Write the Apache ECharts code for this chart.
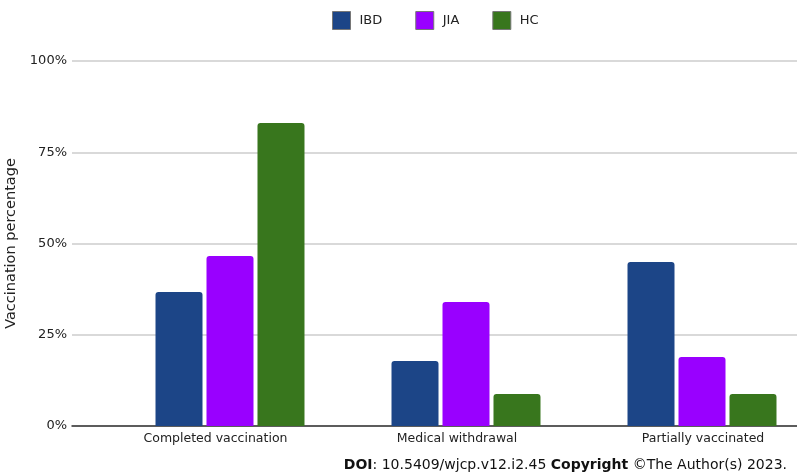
<!DOCTYPE html>
<html>
<head>
<meta charset="utf-8">
<script src="https://cdn.jsdelivr.net/npm/echarts@6/dist/echarts.min.js"></script>
<style>
  html, body { margin: 0; padding: 0; background: #fff; }
  #main { width: 797px; height: 476px; }
</style>
</head>
<body>
<div id="main"></div>
<script>
// data
var categories = ['Completed vaccination', 'Medical withdrawal', 'Partially vaccinated'];
var ibdValues = [36.7, 17.8, 44.9];
var jiaValues = [46.6, 34.0, 18.9];
var hcValues = [83.0, 8.8, 8.8];
var yTicks = [0, 25, 50, 75, 100];

var FONT = 'DejaVu Sans';
var myChart = echarts.init(document.getElementById('main'));

function barSeries(name, data, color) {
  return {
    name: name,
    type: 'bar',
    xAxisIndex: 1,
    yAxisIndex: 1,
    barWidth: 47,
    barGap: '8.5%',
    data: data,
    itemStyle: { color: color, borderRadius: [3, 3, 0, 0] }
  };
}

// labels in the source are not quite centred under their bars
var labelStyle = { fontFamily: FONT, fontSize: 12.5, color: '#222' };
var labelRich = {
  c0: Object.assign({ padding: [0, 29, 0, 0] }, labelStyle),
  c1: Object.assign({ padding: [0, 18, 0, 0] }, labelStyle),
  c2: Object.assign({ padding: [0, 0, 0, 2] }, labelStyle)
};

myChart.setOption({
  animation: false,
  textStyle: { fontFamily: FONT },
  legend: {
    top: 6,
    left: 327,
    itemWidth: 18,
    itemHeight: 18,
    itemGap: 33,
    icon: 'rect',
    itemStyle: { borderColor: '#777', borderWidth: 1 },
    textStyle: { fontFamily: FONT, fontSize: 13, color: '#222', padding: [0, 0, 0, 4] },
    data: ['IBD', 'JIA', 'HC']
  },
  grid: [
    { left: 72, right: 0, top: 61, bottom: 50, outerBoundsMode: 'none' },
    // bars sit in a wider grid, the source figure is cropped on the right
    { left: 112, width: 708, top: 61, bottom: 50, outerBoundsMode: 'none' }
  ],
  xAxis: [
    {
      gridIndex: 0,
      type: 'category',
      data: [''],
      axisLine: { lineStyle: { color: '#333', width: 1.5 } },
      axisTick: { show: false },
      axisLabel: { show: false }
    },
    {
      gridIndex: 1,
      type: 'category',
      data: categories,
      axisLine: { show: false },
      axisTick: { show: false },
      axisLabel: {
        margin: 6,
        formatter: function (v, i) { return '{c' + i + '|' + v + '}'; },
        rich: labelRich
      }
    }
  ],
  yAxis: [
    {
      gridIndex: 0,
      type: 'value',
      min: yTicks[0],
      max: yTicks[yTicks.length - 1],
      interval: 25,
      name: 'Vaccination percentage',
      nameLocation: 'middle',
      nameGap: 52,
      nameTextStyle: { fontFamily: FONT, fontSize: 14.5, color: '#222' },
      axisLine: { show: false },
      axisTick: { show: false },
      axisLabel: { formatter: '{value}%', fontFamily: FONT, fontSize: 13, color: '#222', margin: 5 },
      splitLine: { lineStyle: { color: '#cccccc', width: 1.5 } }
    },
    {
      gridIndex: 1,
      type: 'value',
      min: 0,
      max: 100,
      show: false,
      splitLine: { show: false }
    }
  ],
  series: [
    barSeries('IBD', ibdValues, '#1c4587'),
    barSeries('JIA', jiaValues, '#9900ff'),
    barSeries('HC', hcValues, '#38761d')
  ],
  graphic: [
    {
      type: 'text',
      right: 10,
      top: 458,
      style: {
        text: '{b|DOI}: 10.5409/wjcp.v12.i2.45 {b|Copyright} ©The Author(s) 2023.',
        fontFamily: FONT,
        fontSize: 14,
        fill: '#111',
        rich: { b: { fontWeight: 'bold', fontFamily: FONT, fontSize: 14, fill: '#111' } }
      }
    }
  ]
});
</script>
</body>
</html>
